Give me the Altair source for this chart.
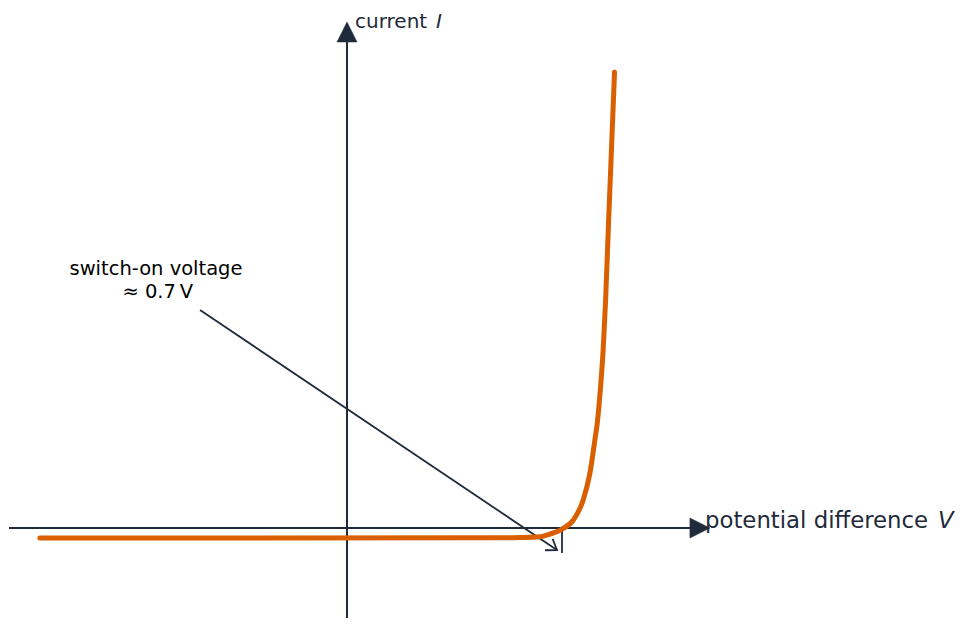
import altair as alt
import pandas as pd

# ---- data (V in volts, I in arbitrary current units) ----
curve_v = [-1.000, 0.498, 0.563, 0.628, 0.661, 0.699, 0.737, 0.769, 0.791, 0.807,
           0.816, 0.822, 0.834, 0.842, 0.851, 0.861, 0.871]
curve_i = [-0.219, -0.215, -0.208, -0.191, -0.132, -0.029, 0.175, 0.614, 1.206, 1.930,
           2.368, 2.807, 3.904, 5.000, 6.601, 8.289, 10.000]

switch_on_v = 0.7
tick_i = [0.0, -0.548]

# axis extents
x_axis_v = [-1.1005, 1.125]
x_arrow_v = 1.149
y_axis_top_i = 10.70
y_arrow_i = 10.877

# annotation
annot_start = (-0.4786, 4.7807)
annot_end = (0.6837, -0.4825)
annot_lines = ["switch-on voltage", "≈ 0.7\u2009V"]
annot_text_v = [-0.6219, -0.6160]
annot_text_i = [5.548, 5.044]

# axis labels
x_label = "potential difference"
x_label_var = "V"
x_label_pos = (1.1656, 0.0)
x_label_var_v = 1.9242
y_label = "current"
y_label_var = "I"
y_label_pos = (0.02605, 10.954)
y_label_var_v = 0.2897

DARK = "#1f2a3b"
ORANGE = "#d95f00"
FONT = "DejaVu Sans"

# scales mapped so that the layout matches the reference
PX_V = 307.143
PX_I = 45.6
W, H = 947, 610
xdom = [-339 / PX_V, -339 / PX_V + W / PX_V]
ydom = [520 / PX_I - H / PX_I, 520 / PX_I]
xs = alt.Scale(domain=xdom, nice=False, zero=False)
ys = alt.Scale(domain=ydom, nice=False, zero=False)


def X(f="v"):
    return alt.X(f"{f}:Q", scale=xs, axis=None)


def Y(f="i"):
    return alt.Y(f"{f}:Q", scale=ys, axis=None)


# axes
xaxis = alt.Chart(pd.DataFrame({"v": [x_axis_v[0]], "v2": [x_axis_v[1]], "i": [0.0]})).mark_rule(
    color=DARK, strokeWidth=2).encode(x=X(), x2="v2:Q", y=Y())
yaxis = alt.Chart(pd.DataFrame({"v": [0.0], "i": [ydom[0]], "i2": [y_axis_top_i]})).mark_rule(
    color=DARK, strokeWidth=2).encode(x=X(), y=Y(), y2="i2:Q")

xarrow = alt.Chart(pd.DataFrame({"v": [x_arrow_v], "i": [0.0]})).mark_point(
    shape="M-1,-1L1,0L-1,1Z", size=400, filled=True, fill=DARK, stroke=DARK, strokeWidth=0.5,
    opacity=1).encode(x=X(), y=Y())
yarrow = alt.Chart(pd.DataFrame({"v": [0.0], "i": [y_arrow_i]})).mark_point(
    shape="M0,-1L1,1L-1,1Z", size=400, filled=True, fill=DARK, stroke=DARK, strokeWidth=0.5,
    opacity=1).encode(x=X(), y=Y())

tick = alt.Chart(pd.DataFrame({"v": [switch_on_v], "i": [tick_i[0]], "i2": [tick_i[1]]})).mark_rule(
    color=DARK, strokeWidth=1.8).encode(x=X(), y=Y(), y2="i2:Q")

curve = alt.Chart(pd.DataFrame({"v": curve_v, "i": curve_i})).mark_line(
    color=ORANGE, strokeWidth=5, strokeCap="round", strokeJoin="round", interpolate="monotone"
).encode(x=X(), y=Y(), order="v:Q")

annot_line = alt.Chart(pd.DataFrame({"v": [annot_start[0]], "i": [annot_start[1]],
                                     "v2": [annot_end[0]], "i2": [annot_end[1]]})).mark_rule(
    color=DARK, strokeWidth=1.8).encode(x=X(), y=Y(), x2="v2:Q", y2="i2:Q")
annot_head = alt.Chart(pd.DataFrame({"v": [annot_end[0]], "i": [annot_end[1]]})).mark_point(
    shape="M-0.82,-0.57L0,0L-0.82,0.57", size=576, filled=False, stroke=DARK, strokeWidth=1.8,
    opacity=1, angle=33.7).encode(x=X(), y=Y())

annot_text = alt.Chart(pd.DataFrame({"v": annot_text_v, "i": annot_text_i, "t": annot_lines})).mark_text(
    font=FONT, fontSize=19.5, color="#000000", align="center", baseline="alphabetic"
).encode(x=X(), y=Y(), text="t:N")


def label(txt, v, i, size, italic=False):
    return alt.Chart(pd.DataFrame({"v": [v], "i": [i], "t": [txt]})).mark_text(
        font=FONT, fontSize=size, color=DARK, align="left", baseline="alphabetic",
        fontStyle="italic" if italic else "normal"
    ).encode(x=X(), y=Y(), text="t:N")


labels = [
    label(x_label, x_label_pos[0], x_label_pos[1], 22.8),
    label(x_label_var, x_label_var_v, x_label_pos[1], 22.8, True),
    label(y_label, y_label_pos[0], y_label_pos[1], 20),
    label(y_label_var, y_label_var_v, y_label_pos[1], 20, True),
]

chart = alt.layer(xaxis, yaxis, xarrow, yarrow, tick, annot_line, annot_head, curve,
                  annot_text, *labels).properties(
    width=W, height=H, autosize=alt.AutoSizeParams(type="none"), padding=0
).configure_view(strokeWidth=0)

chart.save("out.html", embed_options={"renderer": "svg", "actions": False})
